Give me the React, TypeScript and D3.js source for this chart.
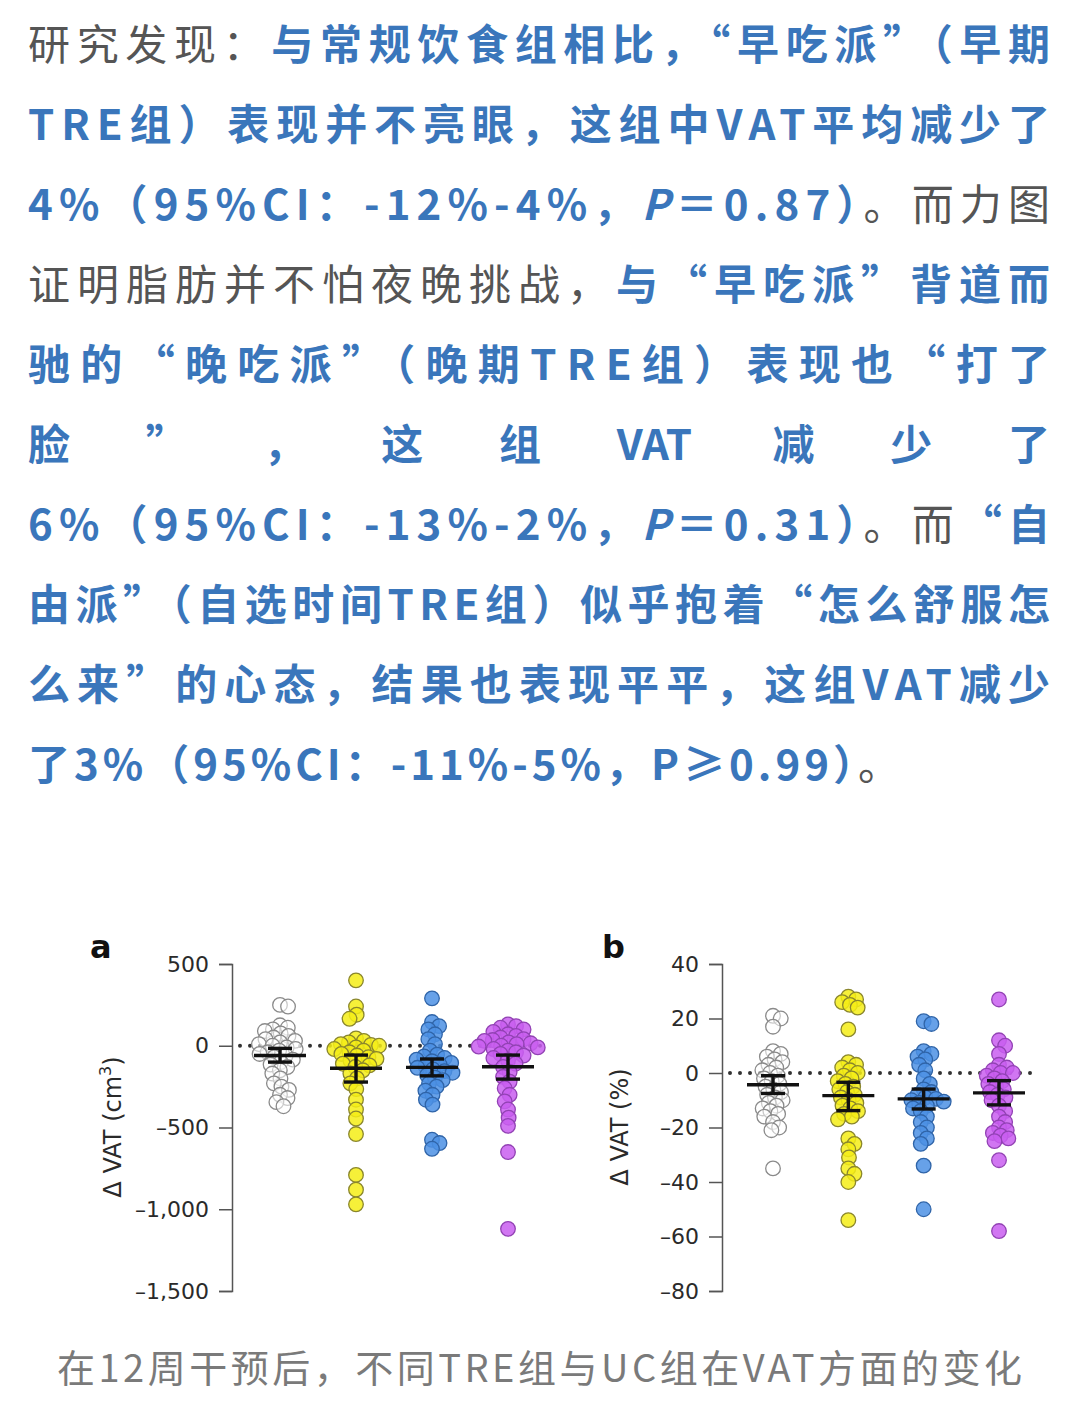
import React, { useEffect, useRef } from "react";
import * as d3 from "d3";

// ---------- data ----------
const groups = ["UC", "eTRE", "lTRE", "sTRE"];
const fills = ["#ffffff", "#f5ed16", "#4c91e4", "#c95ef0"];
const strokes = ["#8a8a8a", "#8a862c", "#2f64a8", "#9242b4"];

// panel a: change in VAT (cm3)
const vatA_UC = [250, 240, 125, 110, 100, 90, 75, 60, 50, 40, 30, 20, 10, 0, -10, -20, -30, -40, -50, -60, -70, -85, -100, -115, -130, -150, -170, -200, -230, -250, -270, -300, -320, -345, -370];
const vatA_E = [400, 240, 190, 165, 45, 30, 20, 10, 5, 0, -10, -20, -30, -40, -50, -60, -70, -80, -90, -100, -110, -120, -130, -150, -170, -200, -230, -265, -330, -390, -445, -540, -790, -880, -970];
const vatA_L = [290, 145, 120, 100, 70, 40, 10, -30, -55, -65, -75, -85, -95, -105, -115, -125, -135, -145, -155, -165, -180, -195, -210, -230, -250, -275, -300, -330, -360, -575, -595, -630];
const vatA_S = [130, 120, 110, 100, 85, 70, 60, 50, 40, 35, 30, 20, 15, 10, 0, -5, -10, -20, -30, -40, -50, -60, -75, -90, -110, -130, -160, -190, -220, -260, -300, -340, -390, -440, -490, -650, -1120];
const meanA = [-60, -138, -132, -128];
const ciLoA = [-100, -222, -184, -204];
const ciHiA = [-16, -57, -81, -57];
const ticksA = [500, 0, -500, -1000, -1500];

// panel b: change in VAT (%)
const vatB_UC = [21, 20, 17, 8, 7, 6, 5, 4, 3, 2, 1, 0, -1, -2, -3, -4, -5, -6, -7, -8, -9, -10, -11, -12, -13, -14, -15, -16, -18, -20, -21, -35];
const vatB_E = [28, 27, 26, 25, 24, 16, 4, 3, 2, 1, 0, -1, -2, -3, -4, -5, -6, -7, -8, -9, -10, -11, -12, -13, -14, -15, -16, -17, -24, -26, -28, -31, -35, -37, -40, -54];
const vatB_L = [19, 18, 8, 7, 6, 5, 3, 1, -2, -4, -6, -7, -8, -9, -9.5, -10, -10.5, -11, -12, -13, -14, -16, -18, -20, -22, -24, -26, -34, -50];
const vatB_S = [27, 12, 10, 7, 3, 2, 1, 0, 0, -1, -2, -3, -4, -5, -6, -7, -8, -9, -10, -12, -14, -16, -18, -20, -21, -22, -23, -24, -25, -32, -58];
const meanB = [-4.3, -8.3, -9.5, -7.3];
const ciLoB = [-7.5, -13.8, -13.2, -11.7];
const ciHiB = [-1, -3.4, -5.9, -2.8];
const ticksB = [40, 20, 0, -20, -40, -60, -80];

// ---------- text ----------
const GRAY = "#555555";
const BLUE = "#3a76bb";
type Seg = { t: string; c: "g" | "b"; i?: boolean };
const paraLines: Seg[][] = [
  [{ t: "研究发现：", c: "g" }, { t: "与常规饮食组相比，“早吃派”（早期", c: "b" }],
  [{ t: "TRE组）表现并不亮眼，这组中VAT平均减少了", c: "b" }],
  [{ t: "4%（95%CI：-12%-4%，", c: "b" }, { t: "P", c: "b", i: true }, { t: "＝0.87）", c: "b" }, { t: "。而力图", c: "g" }],
  [{ t: "证明脂肪并不怕夜晚挑战，", c: "g" }, { t: "与“早吃派”背道而", c: "b" }],
  [{ t: "驰的“晚吃派”（晚期TRE组）表现也“打了", c: "b" }],
  [],
  [{ t: "6%（95%CI：-13%-2%，", c: "b" }, { t: "P", c: "b", i: true }, { t: "＝0.31）", c: "b" }, { t: "。而", c: "g" }, { t: "“自", c: "b" }],
  [{ t: "由派”（自选时间TRE组）似乎抱着“怎么舒服怎", c: "b" }],
  [{ t: "么来”的心态，结果也表现平平，这组VAT减少", c: "b" }],
  [{ t: "了3%（95%CI：-11%-5%，P≥0.99）", c: "b" }, { t: "。", c: "g" }],
];
const spreadLine = ["脸", "”", "，", "这", "组", "VAT", "减", "少", "了"];
const caption = "在12周干预后，不同TRE组与UC组在VAT方面的变化";

// ---------- helpers ----------
function swarm(values: number[], y: (v: number) => number, sep: number) {
  const pts = values.map((v) => ({ v, y: y(v), dx: 0 })).sort((a, b) => a.y - b.y);
  const placed: { v: number; y: number; dx: number }[] = [];
  for (const p of pts) {
    const cands = [0];
    for (const q of placed) {
      const dy = Math.abs(q.y - p.y);
      if (dy < sep) {
        const dx = Math.sqrt(sep * sep - dy * dy);
        cands.push(q.dx + dx, q.dx - dx);
      }
    }
    cands.sort((a, b) => Math.abs(a) - Math.abs(b));
    for (const c of cands) {
      if (placed.every((q) => (q.dx - c) ** 2 + (q.y - p.y) ** 2 >= sep * sep - 1e-6)) {
        p.dx = c;
        break;
      }
    }
    placed.push(p);
  }
  return placed;
}

const FONT = "'DejaVu Sans', sans-serif";
const CJK = "'Noto Sans CJK SC', 'Noto Sans', sans-serif";

type PanelProps = {
  letter: string;
  letterX: number;
  axisX: number;
  xRange: [number, number];
  domain: [number, number];
  ticks: number[];
  fmt: (v: number) => string;
  series: number[][];
  mean: number[];
  lo: number[];
  hi: number[];
  label: React.ReactNode;
  labelX: number;
  lineEnd: number;
};

function Panel(p: PanelProps) {
  const axRef = useRef<SVGGElement>(null);
  const y = d3.scaleLinear().domain(p.domain).range([1291, 964]);
  const x = d3.scalePoint<string>().domain(groups).range(p.xRange);
  useEffect(() => {
    if (!axRef.current) return;
    const g = d3.select(axRef.current);
    g.selectAll("*").remove();
    g.call(
      d3.axisLeft(y).tickValues(p.ticks).tickSize(13).tickPadding(10).tickFormat((d) => p.fmt(d as number))
    );
    g.select(".domain").attr("stroke", "#555").attr("stroke-width", 1.5);
    g.selectAll(".tick line").attr("stroke", "#555").attr("stroke-width", 1.5);
    g.selectAll(".tick text").attr("font-size", 22).attr("font-family", FONT).attr("fill", "#2a2a2a");
  }, []);
  const sep = 8.2;
  const r = 7.3;
  return (
    <g>
      <text x={p.letterX} y={958} fontFamily={FONT} fontWeight="bold" fontSize={32} fill="#111">
        {p.letter}
      </text>
      <g ref={axRef} transform={`translate(${p.axisX},0)`} />
      <text
        transform={`translate(${p.labelX},1127) rotate(-90)`}
        textAnchor="middle"
        fontFamily={FONT}
        fontSize={24}
        fill="#2a2a2a"
      >
        {p.label}
      </text>
      <line
        x1={p.axisX + 8}
        x2={p.lineEnd}
        y1={y(0)}
        y2={y(0)}
        stroke="#333"
        strokeWidth={4}
        strokeLinecap="round"
        strokeDasharray="0,10"
      />
      {p.series.map((vals, gi) => {
        const cx = x(groups[gi])!;
        const pts = swarm(vals, y, sep);
        return (
          <g key={gi}>
            {pts.map((pt, i) => (
              <circle
                key={i}
                cx={cx + pt.dx}
                cy={pt.y}
                r={r}
                fill={fills[gi]}
                fillOpacity={gi === 0 ? 0.55 : 0.85}
                stroke={strokes[gi]}
                strokeWidth={1.3}
              />
            ))}
          </g>
        );
      })}
      {groups.map((gname, gi) => {
        const cx = x(gname)!;
        return (
          <g key={gname} stroke="#111" strokeWidth={3.4}>
            <line x1={cx - 26} x2={cx + 26} y1={y(p.mean[gi])} y2={y(p.mean[gi])} />
            <line x1={cx} x2={cx} y1={y(p.lo[gi])} y2={y(p.hi[gi])} />
            <line x1={cx - 12} x2={cx + 12} y1={y(p.lo[gi])} y2={y(p.lo[gi])} />
            <line x1={cx - 12} x2={cx + 12} y1={y(p.hi[gi])} y2={y(p.hi[gi])} />
          </g>
        );
      })}
    </g>
  );
}

const fmtA = (v: number) => (v < 0 ? "–" : "") + d3.format(",")(Math.abs(v));
const fmtB = (v: number) => (v < 0 ? "–" : "") + String(Math.abs(v));

export default function App() {
  const FS = 42;
  const tokW = spreadLine.map((t) => (t === "VAT" ? 80 : FS));
  const gap = (1022 - d3.sum(tokW)) / (spreadLine.length - 1);
  let acc = 28;
  const tokX = tokW.map((w) => {
    const xx = acc;
    acc += w + gap;
    return xx;
  });
  return (
    <svg
      width={1080}
      height={1401}
      style={{ position: "absolute", left: 0, top: 0, background: "#fff" }}
    >
      <rect width={1080} height={1401} fill="#fff" />
      {paraLines.map((segs, li) => {
        const yy = 60 + li * 80;
        if (li === 5) {
          return (
            <g key={li}>
              {spreadLine.map((t, ti) => (
                <text key={ti} x={tokX[ti]} y={yy} fontFamily={CJK} fontSize={FS} fontWeight="bold" fill={BLUE}>
                  {t}
                </text>
              ))}
            </g>
          );
        }
        const last = li === paraLines.length - 1;
        return (
          <text
            key={li}
            x={28}
            y={yy}
            fontFamily={CJK}
            fontSize={FS}
            {...(last ? { letterSpacing: 4 } : { textLength: 1022, lengthAdjust: "spacing" })}
          >
            {segs.map((s, si) => (
              <tspan
                key={si}
                fill={s.c === "g" ? GRAY : BLUE}
                fontWeight={s.c === "b" ? "bold" : "normal"}
                fontStyle={s.i ? "italic" : "normal"}
              >
                {s.t}
              </tspan>
            ))}
          </text>
        );
      })}

      <Panel
        letter="a"
        letterX={90}
        axisX={232}
        xRange={[280, 508]}
        domain={[-1500, 500]}
        ticks={ticksA}
        fmt={fmtA}
        series={[vatA_UC, vatA_E, vatA_L, vatA_S]}
        mean={meanA}
        lo={ciLoA}
        hi={ciHiA}
        label={
          <>
            Δ VAT (cm<tspan dy={-10} fontSize={16}>3</tspan>
            <tspan dy={10}>)</tspan>
          </>
        }
        labelX={121}
        lineEnd={550}
      />
      <Panel
        letter="b"
        letterX={602}
        axisX={722}
        xRange={[773, 999]}
        domain={[-80, 40]}
        ticks={ticksB}
        fmt={fmtB}
        series={[vatB_UC, vatB_E, vatB_L, vatB_S]}
        mean={meanB}
        lo={ciLoB}
        hi={ciHiB}
        label={<>Δ VAT (%)</>}
        labelX={628}
        lineEnd={1040}
      />

      <text x={57} y={1382} fontFamily={CJK} fontSize={38} fill="#7a7a7a" textLength={965} lengthAdjust="spacing">
        {caption}
      </text>
    </svg>
  );
}
